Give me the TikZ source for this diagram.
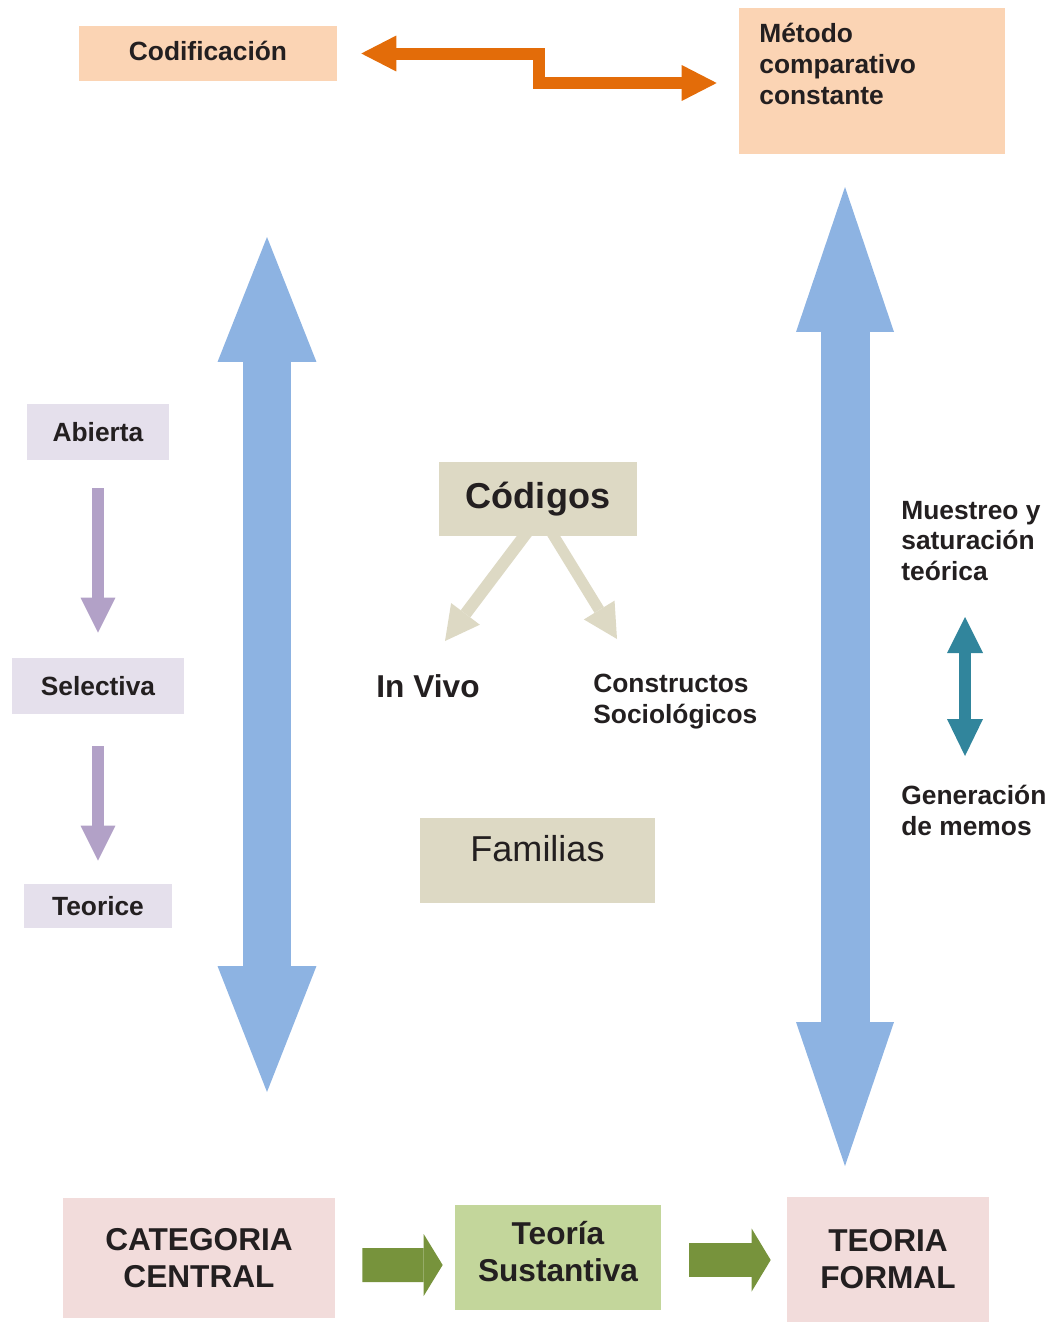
\documentclass[tikz,border=0pt]{standalone}
\usepackage{fontspec}
\setmainfont{Liberation Sans}
\usetikzlibrary{arrows.meta,calc}

\definecolor{ink}{HTML}{231F20}
\definecolor{peach}{HTML}{FBD4B4}
\definecolor{lavender}{HTML}{E5E0EC}
\definecolor{sand}{HTML}{DDD9C4}
\definecolor{rose}{HTML}{F2DCDB}
\definecolor{lightgreen}{HTML}{C3D69B}
\definecolor{skyblue}{HTML}{8DB3E2}
\definecolor{burnt}{HTML}{E36C09}
\definecolor{lilac}{HTML}{B2A1C7}
\definecolor{teal}{HTML}{31859C}
\definecolor{olive}{HTML}{77933C}

\tikzset{
    box/.style={rectangle, inner sep=0pt, align=center, text=ink},
    small/.style={font=\fontsize{15}{17.6}\selectfont\bfseries, text=ink},
    medium/.style={font=\fontsize{18}{21}\selectfont\bfseries, text=ink},
    large/.style={font=\fontsize{20.5}{24}\selectfont, text=ink},
    blockarrow/.style 2 args={draw=#1, line width=#2, line join=miter},
}

\begin{document}
\begin{tikzpicture}[x=0.02cm, y=-0.02cm]
    \useasboundingbox (0,0) rectangle (1052,1322);

    % top boxes
    \node[box, small, fill=peach, minimum width=5.16cm, minimum height=1.1cm, text depth=0.12cm] (codif) at (208,53.5) {Codificación};
    \node[box, fill=peach, minimum width=5.32cm, minimum height=2.92cm] (metodo) at (872,81) {};
    \node[small, align=left, anchor=north west, inner sep=0pt] (metodotxt) at (759,23) {Método\\comparativo\\constante};

    % left column
    \node[box, small, fill=lavender, minimum width=2.84cm, minimum height=1.12cm] (abierta) at (98,432) {Abierta};
    \node[box, small, fill=lavender, minimum width=3.44cm, minimum height=1.12cm] (selectiva) at (98,686) {Selectiva};
    \node[box, small, fill=lavender, minimum width=2.96cm, minimum height=0.88cm] (teorice) at (98,906) {Teorice};

    % middle
    \node[box, large, font=\fontsize{20.5}{24}\selectfont\bfseries, fill=sand, minimum width=3.96cm, minimum height=1.48cm] (codigos) at (538,499) {Códigos};
    \node[medium] (invivo) at (428,686) {In Vivo};
    \node[small, align=left, anchor=west, inner sep=0pt] (constructos) at (593,701.5) {Constructos\\Sociológicos};
    \node[box, large, fill=sand, minimum width=4.7cm, minimum height=1.7cm, text depth=0.47cm] (familias) at (537.5,860.5) {Familias};

    % right column
    \node[small, align=left, anchor=west, inner sep=0pt] (muestreo) at (901,541) {Muestreo y\\saturación\\teórica};
    \node[small, align=left, anchor=west, inner sep=0pt] (memos) at (901,810.5) {Generación\\de memos};

    % bottom row
    \node[box, medium, fill=rose, minimum width=5.44cm, minimum height=2.4cm] (central) at (199,1258) {CATEGORIA\\CENTRAL};
    \node[box, medium, fill=lightgreen, minimum width=4.12cm, minimum height=2.1cm, text depth=0.24cm] (sustantiva) at (558,1257.5) {Teoría\\Sustantiva};
    \node[box, medium, fill=rose, minimum width=4.04cm, minimum height=2.5cm] (formal) at (888,1259.5) {TEORIA\\FORMAL};

    % arrow ends
    \coordinate (lefttop) at (267,237);
    \coordinate (leftbot) at (267,1092);
    \coordinate (righttop) at (845,187);
    \coordinate (rightbot) at (845,1166);
    \coordinate (memotop) at (965,617);
    \coordinate (memobot) at (965,756);
    \coordinate (vivotip) at (445,641);
    \coordinate (socitip) at (617,639);

    % orange link
    \draw[blockarrow={burnt}{0.24cm},
        arrows={Triangle[length=0.7cm,width=0.72cm,line width=0pt]-Triangle[length=0.7cm,width=0.72cm,line width=0pt]}]
        ($(codif.east)+(24,0)$) -| (539,68) |- ($(metodo.west)+(-22,2)$);

    % big blue arrows
    \draw[blockarrow={skyblue}{0.98cm},
        arrows={Triangle[length=2.5cm,width=1.98cm,line width=0pt]-Triangle[length=2.52cm,width=1.98cm,line width=0pt]}]
        (lefttop) -- (leftbot);
    \draw[blockarrow={skyblue}{0.98cm},
        arrows={Triangle[length=2.9cm,width=1.96cm,line width=0pt]-Triangle[length=2.88cm,width=1.96cm,line width=0pt]}]
        (righttop) -- (rightbot);

    % coding steps
    \draw[blockarrow={lilac}{0.23cm}, arrows={-Triangle[length=0.7cm,width=0.7cm,line width=0pt]}]
        ($(abierta.south)+(0,28)$) -- ($(selectiva.north)+(0,-25)$);
    \draw[blockarrow={lilac}{0.23cm}, arrows={-Triangle[length=0.7cm,width=0.7cm,line width=0pt]}]
        ($(selectiva.south)+(0,32)$) -- ($(teorice.north)+(0,-23)$);

    % codes
    \draw[blockarrow={sand}{0.24cm}, arrows={-Triangle[length=0.68cm,width=0.72cm,line width=0pt]}]
        ($(codigos.south)+(-9.5,-6)$) -- (vivotip);
    \draw[blockarrow={sand}{0.22cm}, arrows={-Triangle[length=0.68cm,width=0.72cm,line width=0pt]}]
        ($(codigos.south)+(12.3,-6)$) -- (socitip);

    % memos
    \draw[blockarrow={teal}{0.24cm},
        arrows={Triangle[length=0.72cm,width=0.72cm,line width=0pt]-Triangle[length=0.74cm,width=0.72cm,line width=0pt]}]
        (memotop) -- (memobot);

    % theory
    \draw[blockarrow={olive}{0.68cm}, arrows={-Triangle[length=0.38cm,width=1.24cm,line width=0pt]}]
        ($(central.east)+(27,7)$) -- ($(sustantiva.west)+(-12,7.5)$);
    \draw[blockarrow={olive}{0.68cm}, arrows={-Triangle[length=0.38cm,width=1.26cm,line width=0pt]}]
        ($(sustantiva.east)+(28,2.5)$) -- ($(formal.west)+(-16,0.5)$);
\end{tikzpicture}
\end{document}
